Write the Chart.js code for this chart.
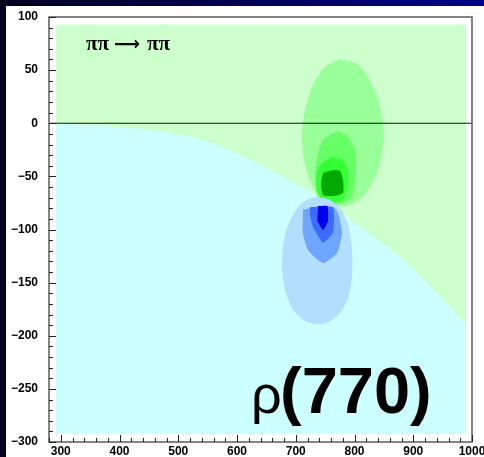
<!DOCTYPE html>
<html>
<head>
<meta charset="utf-8">
<script src="https://cdn.jsdelivr.net/npm/chart.js@4.4.1/dist/chart.umd.min.js"></script>
<style>
  html, body { margin: 0; padding: 0; background: #000022; }
</style>
</head>
<body>
<canvas id="chart" width="484" height="457"></canvas>
<script>
const xTicks = [300, 400, 500, 600, 700, 800, 900, 1000];
const yTicks = [-300, -250, -200, -150, -100, -50, 0, 50, 100];

// extent of the contour map
const mapX = [292, 990];
const mapY = [-292, 93];

// border between the two sheets: cyan below, green above
const sheetEdge = [[292, 0], [396, -3.5], [460, -7], [537, -15], [622, -34], [639, -39], [680, -51],
  [724, -64], [753, -75], [877, -126], [951, -166], [990, -190]];

// contour levels, outermost first
const green1 = [[775, 60.5], [804, 55.8], [826, 40.7], [840, 21.9], [848.5, 0.2], [848.5, -20.5], [842, -40],
  [828, -58], [808, -72], [785, -78], [760, -76], [738, -68.5], [724, -53.4], [714, -34.6], [710.6, -11.1],
  [715.7, 12.5], [729.3, 36], [749.8, 52.9], [775, 60.5]];
const green2 = [[772, -7.3], [789, -13], [800.8, -25.2], [802.5, -46.8], [795.7, -69.4], [775.3, -76], [754.9, -77],
  [737.9, -69.4], [732.8, -53.4], [736.2, -31.8], [746.4, -15.8], [772, -7.3]];
const green3 = [[761.7, -31.8], [780.4, -34.6], [789, -46.8], [787.2, -62.8], [780.4, -71.3], [763.4, -75.1],
  [746.4, -73.2], [736.2, -62.8], [736.2, -45.9], [744.7, -37.4], [761.7, -31.8]];
const green4 = [[746.4, -46.8], [763.4, -44], [775.3, -44.9], [780.4, -53.4], [780.4, -65.6], [763.4, -68.5],
  [746.4, -67.5], [743, -56.2], [746.4, -46.8]];

const blue1 = [[732.8, -69.4], [754.9, -71.3], [775.3, -79.8], [789, -95.8], [795.7, -119.3], [795.7, -142.8],
  [789, -164.5], [771.9, -180.5], [744.7, -188.9], [715.7, -186.1], [693.6, -173.9], [680, -152.2],
  [676.6, -128.7], [681.7, -105.2], [695.3, -86.4], [712.3, -74.1], [732.8, -69.4]];
const blue2 = [[712.3, -81.6], [737.9, -77.9], [763.4, -78.8], [771.9, -84.5], [778.7, -103.3], [770.2, -122.1],
  [746.4, -131.5], [720.8, -119.3], [712.3, -103.3], [712.3, -81.6]];
const blue3 = [[724.2, -78.8], [763.4, -78.8], [765.1, -88.2], [763.4, -103.3], [746.4, -112.7], [729.3, -97.6],
  [724.2, -86.4], [724.2, -78.8]];
const blue4 = [[738, -77.9], [754, -77.9], [755, -92], [746.4, -100.5], [737, -92], [738, -77.9]];

const pts = arr => arr.map(p => ({x: p[0], y: p[1]}));

function region(data, color, fill, extra) {
  return Object.assign({
    data: pts(data),
    showLine: true,
    fill: fill,
    backgroundColor: color,
    borderColor: 'rgba(0,0,0,0)',
    borderWidth: 0,
    pointRadius: 0,
    tension: 0
  }, extra || {});
}

// bottom to top
const layers = [
  region([[mapX[0], mapY[1]], [mapX[1], mapY[1]]], '#ccffcc', {value: mapY[0]}),
  region(sheetEdge, '#ccffff', {value: mapY[0]}, {cubicInterpolationMode: 'monotone'}),
  region(green1, '#99ff99', 'shape', {tension: 0.3}),
  region(green2, '#66ff66', 'shape', {tension: 0.2}),
  region(green3, '#33ff33', 'shape', {tension: 0.2}),
  region(green4, '#00aa00', 'shape', {tension: 0.2}),
  region(blue1, '#b3dfff', 'shape', {tension: 0.3}),
  region(blue2, '#6ea6ff', 'shape', {tension: 0.2}),
  region(blue3, '#3d6bff', 'shape', {tension: 0.1}),
  region(blue4, '#0000ee', 'shape', {tension: 0.1}),
  {
    data: pts([[280, 0], [1000, 0]]),
    showLine: true,
    fill: false,
    borderColor: '#111',
    borderWidth: 1.2,
    pointRadius: 0
  }
];
layers.forEach((d, i) => { d.order = layers.length - i; });

const frame = {
  id: 'frame',
  beforeDraw(chart) {
    const ctx = chart.ctx;
    const g = ctx.createLinearGradient(0, 0, chart.width, 0);
    g.addColorStop(0, '#000020');
    g.addColorStop(1, '#00008a');
    ctx.save();
    ctx.fillStyle = g;
    ctx.fillRect(0, 0, chart.width, chart.height);
    ctx.fillStyle = '#ffffff';
    ctx.fillRect(6, 6, chart.width - 6, chart.height - 6);
    ctx.restore();
  },
  afterDatasetsDraw(chart) {
    const {ctx, chartArea: a, scales: {x, y}} = chart;
    ctx.save();
    ctx.strokeStyle = '#666';
    ctx.lineWidth = 1.6;
    ctx.strokeRect(a.left, a.top, a.right - a.left, a.bottom - a.top);

    ctx.strokeStyle = '#222';
    ctx.lineWidth = 1;
    ctx.beginPath();
    for (let v = 280; v <= 1000; v += 20) {
      const px = Math.round(x.getPixelForValue(v)) + 0.5;
      const len = xTicks.includes(v) ? 7 : 4;
      ctx.moveTo(px, a.bottom);
      ctx.lineTo(px, a.bottom - len);
    }
    for (let v = -300; v <= 100; v += 10) {
      const py = Math.round(y.getPixelForValue(v)) + 0.5;
      const len = yTicks.includes(v) ? 7 : 4;
      ctx.moveTo(a.left, py);
      ctx.lineTo(a.left + len, py);
    }
    ctx.stroke();

    // process label
    ctx.fillStyle = '#000';
    ctx.textBaseline = 'alphabetic';
    ctx.font = 'bold 21px "Liberation Serif"';
    ctx.fillText('ππ', 86, 50);
    ctx.fillText('ππ', 147, 50);
    ctx.save();
    ctx.font = 'bold 19px "DejaVu Sans"';
    const aw = ctx.measureText('⟶').width;
    ctx.translate(114, 50);
    ctx.scale(26 / aw, 1);
    ctx.fillText('⟶', 0, 0);
    ctx.restore();

    // resonance name
    ctx.font = '54px "Liberation Sans"';
    ctx.fillText('ρ', 251, 413);
    ctx.font = 'bold 65px "Liberation Sans"';
    ctx.fillText('(770)', 280, 413);
    ctx.restore();
  }
};

const tickFont = {family: 'Liberation Sans', size: 12, weight: 'bold'};
const minus = v => String(v).replace('-', '\u2212');

new Chart(document.getElementById('chart'), {
  type: 'scatter',
  data: {datasets: layers},
  options: {
    responsive: false,
    animation: false,
    events: [],
    layout: {padding: {left: 0, top: 17, right: 12, bottom: 0}},
    plugins: {legend: {display: false}, tooltip: {enabled: false}},
    scales: {
      x: {
        type: 'linear',
        min: 280,
        max: 1000,
        grid: {display: false, drawTicks: false},
        border: {display: false},
        ticks: {font: tickFont, color: '#000', padding: 2, autoSkip: false, maxRotation: 0, callback: minus},
        afterBuildTicks: s => { s.ticks = xTicks.map(v => ({value: v})); },
        afterFit: s => { s.height = 15; s.paddingLeft = 0; s.paddingRight = 0; }
      },
      y: {
        type: 'linear',
        min: -300,
        max: 100,
        grid: {display: false, drawTicks: false},
        border: {display: false},
        ticks: {font: tickFont, color: '#000', padding: 11, callback: minus},
        afterBuildTicks: s => { s.ticks = yTicks.map(v => ({value: v})); },
        afterFit: s => { s.width = 49; s.paddingTop = 0; s.paddingBottom = 0; }
      }
    }
  },
  plugins: [frame]
});
</script>
</body>
</html>
